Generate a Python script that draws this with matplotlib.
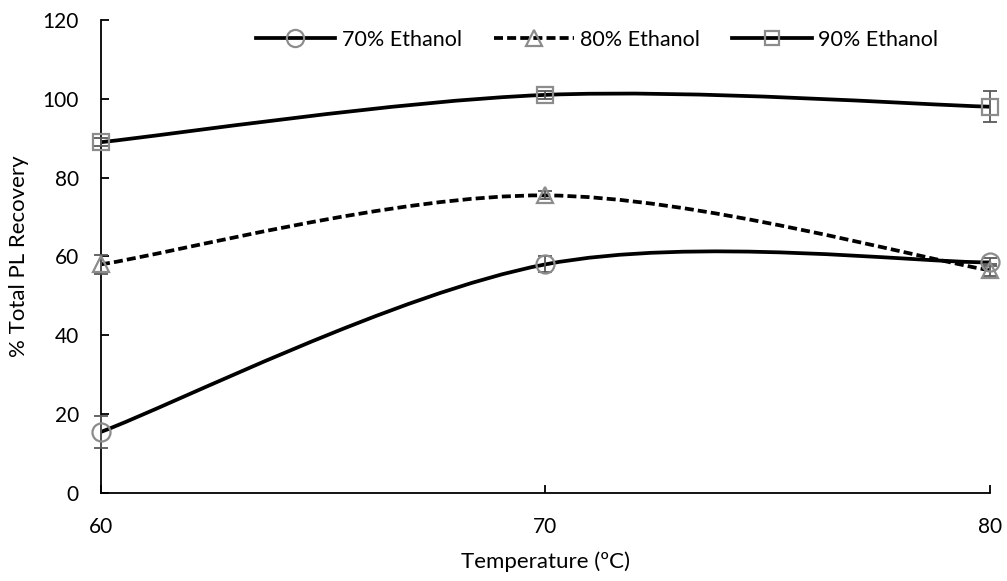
import numpy as np
import matplotlib
matplotlib.use('Agg')
import matplotlib.pyplot as plt
from matplotlib.path import Path
from matplotlib.patches import PathPatch
from matplotlib.lines import Line2D

plt.rcParams['font.family'] = ['Lato', 'DejaVu Sans']

temps = [60, 70, 80]
labels = ['70% Ethanol', '80% Ethanol', '90% Ethanol']
rec_70 = [15.5, 58.0, 58.5]
rec_80 = [58.0, 75.5, 56.5]
rec_90 = [89.0, 101.0, 98.0]
err_70 = [4.0, 2.0, 1.0]
err_80 = [2.5, 1.0, 1.5]
err_90 = [1.0, 1.0, 4.0]

series = [rec_70, rec_80, rec_90]
errors = [err_70, err_80, err_90]
markers = ['o', '^', 's']
msizes = [13, 12, 11]
styles = ['-', (0, (2.4, 1.1)), '-']

GREY = '#8c8c8c'


def smooth_path(x, y):
    # excel-like smoothed line as cubic bezier segments
    pts = np.column_stack([x, y]).astype(float)
    n = len(pts)
    verts = [pts[0]]
    codes = [Path.MOVETO]
    for i in range(n - 1):
        p0 = pts[max(i - 1, 0)]
        p1 = pts[i]
        p2 = pts[i + 1]
        p3 = pts[min(i + 2, n - 1)]
        c1 = p1 + (p2 - p0) / 6.0
        c2 = p2 - (p3 - p1) / 6.0
        verts += [c1, c2, p2]
        codes += [Path.CURVE4] * 3
    return Path(verts, codes)


fig = plt.figure(figsize=(10.07, 5.81), dpi=100)
ax = fig.add_axes([0.1003, 0.1515, 0.8827, 0.8141])

handles = []
for vals, errs, mk, ms, ls, lab in zip(series, errors, markers, msizes, styles, labels):
    patch = PathPatch(smooth_path(temps, vals), facecolor='none', edgecolor='black',
                      lw=2.7, linestyle=ls, zorder=2, clip_on=False, capstyle='butt')
    ax.add_patch(patch)
    ax.errorbar(temps, vals, yerr=errs, fmt='none', ecolor='#595959', elinewidth=1.3,
                capsize=5, capthick=1.3, zorder=3, clip_on=False)
    ax.plot(temps, vals, linestyle='none', marker=mk, markersize=ms, markerfacecolor='none',
            markeredgecolor=GREY, markeredgewidth=1.6, zorder=4, clip_on=False)
    handles.append(Line2D([], [], color='black', lw=2.7, linestyle=ls, marker=mk,
                          markersize=ms * 0.95, markerfacecolor='none',
                          markeredgecolor=GREY, markeredgewidth=1.6))

ax.set_xlim(60, 80)
ax.set_ylim(0, 120)
ax.set_xticks(temps)
ax.set_yticks(np.arange(0, 121, 20))
ax.spines['top'].set_visible(False)
ax.spines['right'].set_visible(False)
ax.spines['left'].set_linewidth(1.3)
ax.spines['bottom'].set_linewidth(1.3)
ax.tick_params(axis='both', direction='in', length=6, width=1.3, labelsize=15)
ax.tick_params(axis='x', pad=17)
ax.tick_params(axis='y', pad=16)
ax.set_xlabel('Temperature (ºC)', fontsize=16, labelpad=11)
ax.set_ylabel('% Total PL Recovery', fontsize=16, labelpad=10)

ax.legend(handles, labels, loc='center', bbox_to_anchor=(0.558, 0.958), ncol=3,
          frameon=False, fontsize=15.5, numpoints=1, handlelength=3.7, handletextpad=0.3,
          columnspacing=1.5)

fig.savefig('out.png', dpi=100)
